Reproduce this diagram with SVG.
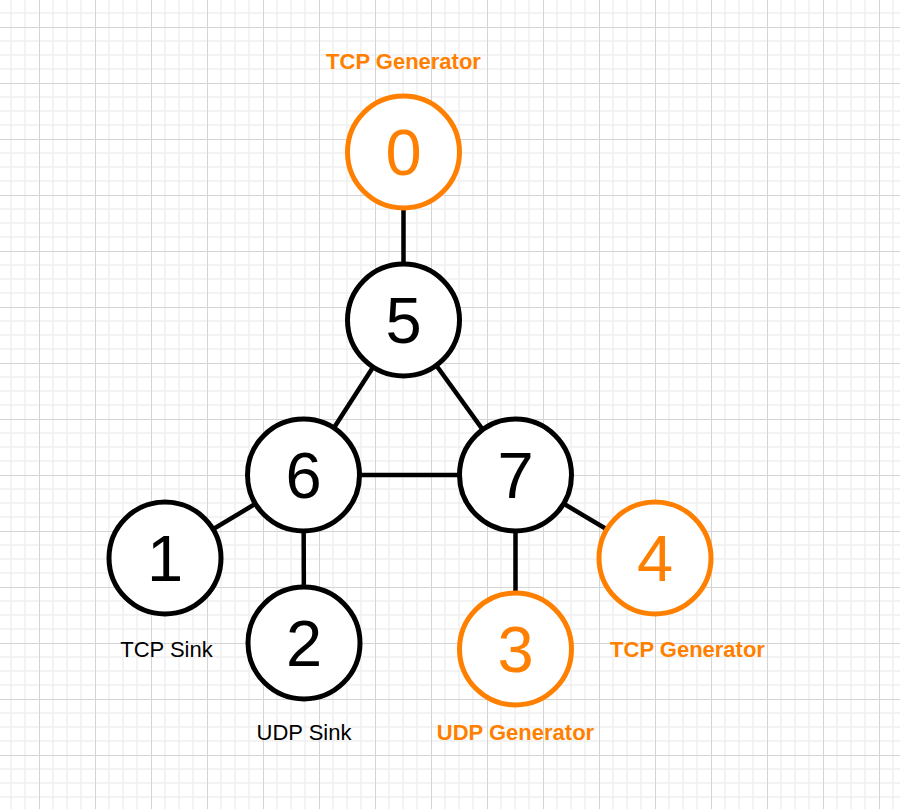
<svg xmlns="http://www.w3.org/2000/svg" width="900" height="809" viewBox="0 0 900 809">
  <style>
    .edge { stroke: #000000; stroke-width: 4.5; fill: none; }
    .node-b circle { fill: #ffffff; stroke: #000000; stroke-width: 5; }
    .node-o circle { fill: #ffffff; stroke: #ff8000; stroke-width: 5; }
    .digit { font-family: "Liberation Sans", Arial, sans-serif; font-size: 65px; text-anchor: middle; }
    .node-b .digit { fill: #000000; }
    .node-o .digit { fill: #ff8000; }
    .lbl { font-family: "Liberation Sans", Arial, sans-serif; font-size: 22px; text-anchor: middle; }
    .lbl-o { fill: #ff8000; font-weight: bold; }
    .lbl-b { fill: #000000; }
  </style>
  <defs>
    <pattern id="grid" patternUnits="userSpaceOnUse" x="39" y="27" width="56" height="56">
      <path d="M14 0V56M28 0V56M42 0V56M0 14H56M0 28H56M0 42H56" stroke="#f0f0f0" stroke-width="1.5" fill="none"/>
      <path d="M0.5 0V56M0 0.5H56" stroke="#d4d4d4" stroke-width="1" fill="none"/>
    </pattern>
  </defs>
  <rect x="0" y="0" width="900" height="809" fill="#ffffff"/>
  <rect x="0" y="0" width="900" height="809" fill="url(#grid)"/>

  <g id="connectors">
    <line class="edge" x1="403.5" y1="152" x2="403.5" y2="320"/>
    <line class="edge" x1="403.5" y1="320" x2="303.5" y2="475"/>
    <line class="edge" x1="403.5" y1="320" x2="515.5" y2="475"/>
    <line class="edge" x1="303.5" y1="475" x2="515.5" y2="475"/>
    <line class="edge" x1="303.5" y1="475" x2="165" y2="558"/>
    <line class="edge" x1="303.5" y1="475" x2="304" y2="643"/>
    <line class="edge" x1="515.5" y1="475" x2="515.5" y2="649"/>
    <line class="edge" x1="515.5" y1="475" x2="655" y2="558"/>
  </g>

  <g id="node0" class="node-o">
    <circle cx="403.5" cy="152" r="56"/>
    <text class="digit" x="403.5" y="175">0</text>
  </g>
  <g id="node5" class="node-b">
    <circle cx="403.5" cy="320" r="56"/>
    <text class="digit" x="403.5" y="343">5</text>
  </g>
  <g id="node6" class="node-b">
    <circle cx="303.5" cy="475" r="56"/>
    <text class="digit" x="303.5" y="498">6</text>
  </g>
  <g id="node7" class="node-b">
    <circle cx="515.5" cy="475" r="56"/>
    <text class="digit" x="515.5" y="498">7</text>
  </g>
  <g id="node1" class="node-b">
    <circle cx="165" cy="558" r="56"/>
    <text class="digit" x="165" y="581">1</text>
  </g>
  <g id="node2" class="node-b">
    <circle cx="304" cy="643" r="56"/>
    <text class="digit" x="304" y="666">2</text>
  </g>
  <g id="node3" class="node-o">
    <circle cx="515.5" cy="649" r="56"/>
    <text class="digit" x="515.5" y="672">3</text>
  </g>
  <g id="node4" class="node-o">
    <circle cx="655" cy="558" r="56"/>
    <text class="digit" x="655" y="581">4</text>
  </g>

  <g id="labels">
    <text class="lbl lbl-o" x="403.5" y="68.5">TCP Generator</text>
    <text class="lbl lbl-b" x="166.5" y="656.5">TCP Sink</text>
    <text class="lbl lbl-b" x="304" y="740">UDP Sink</text>
    <text class="lbl lbl-o" x="515.5" y="740">UDP Generator</text>
    <text class="lbl lbl-o" x="687.5" y="656.5">TCP Generator</text>
  </g>
</svg>
